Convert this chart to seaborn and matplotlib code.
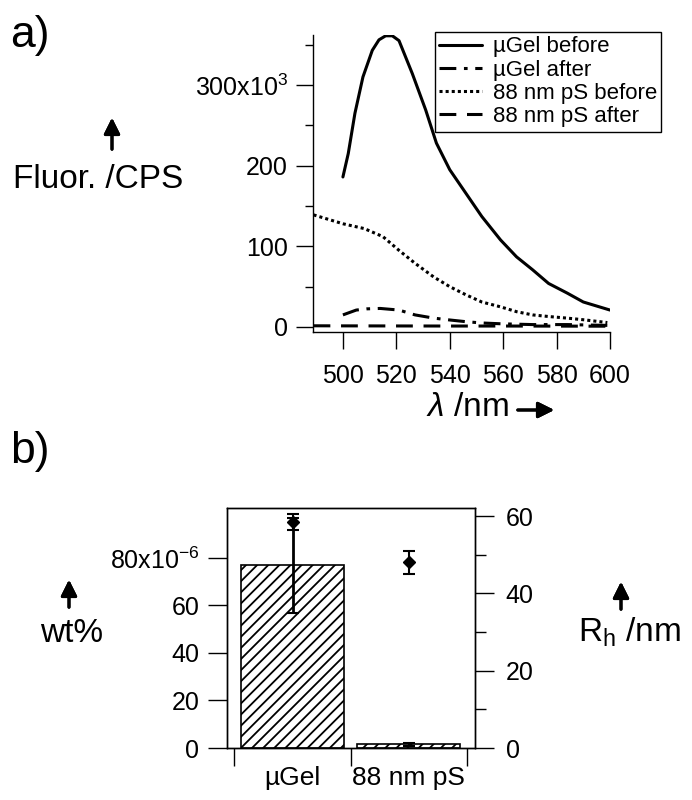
import numpy as np
import pandas as pd
import seaborn as sns
import matplotlib.pyplot as plt

# ---- data ----
# panel a: fluorescence spectra, values in 10^3 CPS
wl_gel_before = [500, 502, 504.5, 507.5, 511, 513.5, 516, 518.5, 521, 526, 531, 535, 540, 546, 552, 559, 565, 571, 577, 584, 590, 600]
fl_gel_before = [186, 215, 265, 310, 343, 356, 361, 361, 355, 314, 269, 228, 195, 166, 137, 108, 87, 71, 54, 42, 31, 21]

wl_gel_after = [500, 505, 509, 514, 521, 527, 534, 540, 546, 552, 559, 571, 584, 599]
fl_gel_after = [15, 21, 22.5, 23, 21, 15, 11, 8.7, 6.6, 5, 4, 3, 3, 2]

wl_ps_before = [489, 495, 500, 508, 515, 521, 527, 534, 540, 546, 552, 559, 565, 571, 577, 584, 590, 599]
fl_ps_before = [139, 133, 128, 122, 112, 95, 79, 62, 50, 40, 31, 25, 19, 15, 13, 11, 9, 5.5]

wl_ps_after = [489, 500, 520, 540, 560, 580, 599]
fl_ps_after = [1.5, 1.4, 1.3, 1.2, 1.2, 1.1, 1.0]

# panel b
categories = ['µGel', '88 nm pS']
wt_pct = [77, 1.5]        # x10^-6
wt_err = [20, 0.8]
rh_nm = [58.5, 48]
rh_err = [2, 3]

sns.set_style('ticks')
plt.rcParams['font.family'] = ['Liberation Sans', 'DejaVu Sans']
plt.rcParams['mathtext.fontset'] = 'custom'
plt.rcParams['mathtext.rm'] = 'Liberation Sans'
plt.rcParams['mathtext.it'] = 'Liberation Sans:italic'
plt.rcParams['mathtext.default'] = 'regular'
plt.rcParams['hatch.linewidth'] = 1.3
plt.rcParams['axes.edgecolor'] = 'black'
plt.rcParams['text.color'] = 'black'
plt.rcParams['axes.labelcolor'] = 'black'
plt.rcParams['xtick.color'] = 'black'
plt.rcParams['ytick.color'] = 'black'

W, H = 692, 800
fig = plt.figure(figsize=(W / 100, H / 100), dpi=100)


def fr(x, y):
    return (x / W, 1 - y / H)


def rect(l, t, r, b):
    return [l / W, 1 - b / H, (r - l) / W, (b - t) / H]


def arrow(x0, y0, x1, y1):
    fig.add_artist(plt.annotate('', xy=fr(x1, y1), xytext=fr(x0, y0), xycoords='figure fraction',
                                arrowprops=dict(arrowstyle='-|>', color='black', lw=2.2, mutation_scale=24)))


# ---- panel a ----
ax1 = fig.add_axes(rect(313, 35, 610, 332))
lw = 2.2
sns.lineplot(x=wl_gel_before, y=fl_gel_before, ax=ax1, color='black', lw=lw, linestyle='-', label='µGel before')
sns.lineplot(x=wl_gel_after, y=fl_gel_after, ax=ax1, color='black', lw=lw, linestyle=(0, (5.5, 2.5, 1.2, 2.5)), label='µGel after')
sns.lineplot(x=wl_ps_before, y=fl_ps_before, ax=ax1, color='black', lw=lw, linestyle=(0, (1, 1)), label='88 nm pS before')
sns.lineplot(x=wl_ps_after, y=fl_ps_after, ax=ax1, color='black', lw=lw, linestyle=(0, (5.5, 3.5)), label='88 nm pS after')

ax1.set_xlim(488.8, 600)
ax1.set_ylim(-6.2, 362)
ax1.set_xticks([500, 520, 540, 560, 580, 600])
ax1.set_yticks([0, 100, 200, 300])
ax1.set_yticklabels(['0', '100', '200', '300x10$^{3}$'])
ax1.set_yticks([50, 150, 250, 350], minor=True)
ax1.tick_params(axis='both', which='major', direction='out', length=12, width=1, labelsize=18)
ax1.tick_params(axis='y', which='minor', direction='out', length=6, width=1)
ax1.tick_params(axis='x', pad=11)
ax1.tick_params(axis='y', pad=6)
for s in ['top', 'right']:
    ax1.spines[s].set_visible(False)
for s in ['left', 'bottom']:
    ax1.spines[s].set_linewidth(1)
ax1.set_xlabel('')
ax1.set_ylabel('')

leg = ax1.legend(loc='upper left', bbox_to_anchor=fr(435, 32), bbox_transform=fig.transFigure,
                 fontsize=16, frameon=True, fancybox=False, framealpha=1, edgecolor='black',
                 handlelength=1.9, handletextpad=0.5, labelspacing=0.1, borderpad=0.2, borderaxespad=0)
leg.get_frame().set_linewidth(1)

fig.text(*fr(10, 35), 'a)', fontsize=32, ha='left', va='center')
fig.text(*fr(98, 180), 'Fluor. /CPS', fontsize=24, ha='center', va='center')
arrow(112, 152, 112, 115)
fig.text(*fr(467, 408), r'$\mathit{\lambda}$ /nm', fontsize=24, ha='center', va='center')
arrow(515, 410, 557, 410)

# ---- panel b ----
ax2 = fig.add_axes(rect(227, 508, 475, 748))
df_b = pd.DataFrame({'cat': categories, 'wt': wt_pct})
sns.barplot(data=df_b, x='cat', y='wt', ax=ax2, color='white', edgecolor='black',
            linewidth=1.2, width=0.885, hatch='///', errorbar=None)
ax2.errorbar(x=[0, 1], y=wt_pct, yerr=wt_err, fmt='none', ecolor='black', elinewidth=2, capsize=4, capthick=1.5)
ax2.set_xlim(-0.564, 1.569)
ax2.set_ylim(0, 101)
ax2.set_yticks([0, 20, 40, 60, 80])
ax2.set_yticklabels(['0', '20', '40', '60', '80x10$^{-6}$'])
ax2.set_xticks([-0.5, 0.5, 1.5], minor=True)
ax2.tick_params(axis='x', which='major', length=0, pad=13, labelsize=19)
ax2.tick_params(axis='x', which='minor', direction='out', length=13, width=1)
ax2.tick_params(axis='y', which='major', direction='out', length=14, width=1, labelsize=18, pad=6)
ax2.set_xlabel('')
ax2.set_ylabel('')
for s in ax2.spines.values():
    s.set_linewidth(1)

ax3 = ax2.twinx()
ax3.errorbar(x=[0, 1], y=rh_nm, yerr=rh_err, fmt='D', color='black', ms=6, elinewidth=1.5, capsize=4, capthick=1.5)
ax3.set_ylim(0, 62.1)
ax3.set_yticks([0, 20, 40, 60])
ax3.set_yticks([10, 30, 50], minor=True)
ax3.tick_params(axis='y', which='major', direction='out', length=14, width=1, labelsize=18, pad=8)
ax3.tick_params(axis='y', which='minor', direction='out', length=8, width=1)
for s in ax3.spines.values():
    s.set_linewidth(1)

fig.text(*fr(10, 452), 'b)', fontsize=32, ha='left', va='center')
fig.text(*fr(72, 634), 'wt%', fontsize=24, ha='center', va='center')
arrow(69, 610, 69, 577)
fig.text(*fr(630, 632), 'R$_{h}$ /nm', fontsize=24, ha='center', va='center')
arrow(621, 612, 621, 579)

fig.savefig('out.png', dpi=100)
